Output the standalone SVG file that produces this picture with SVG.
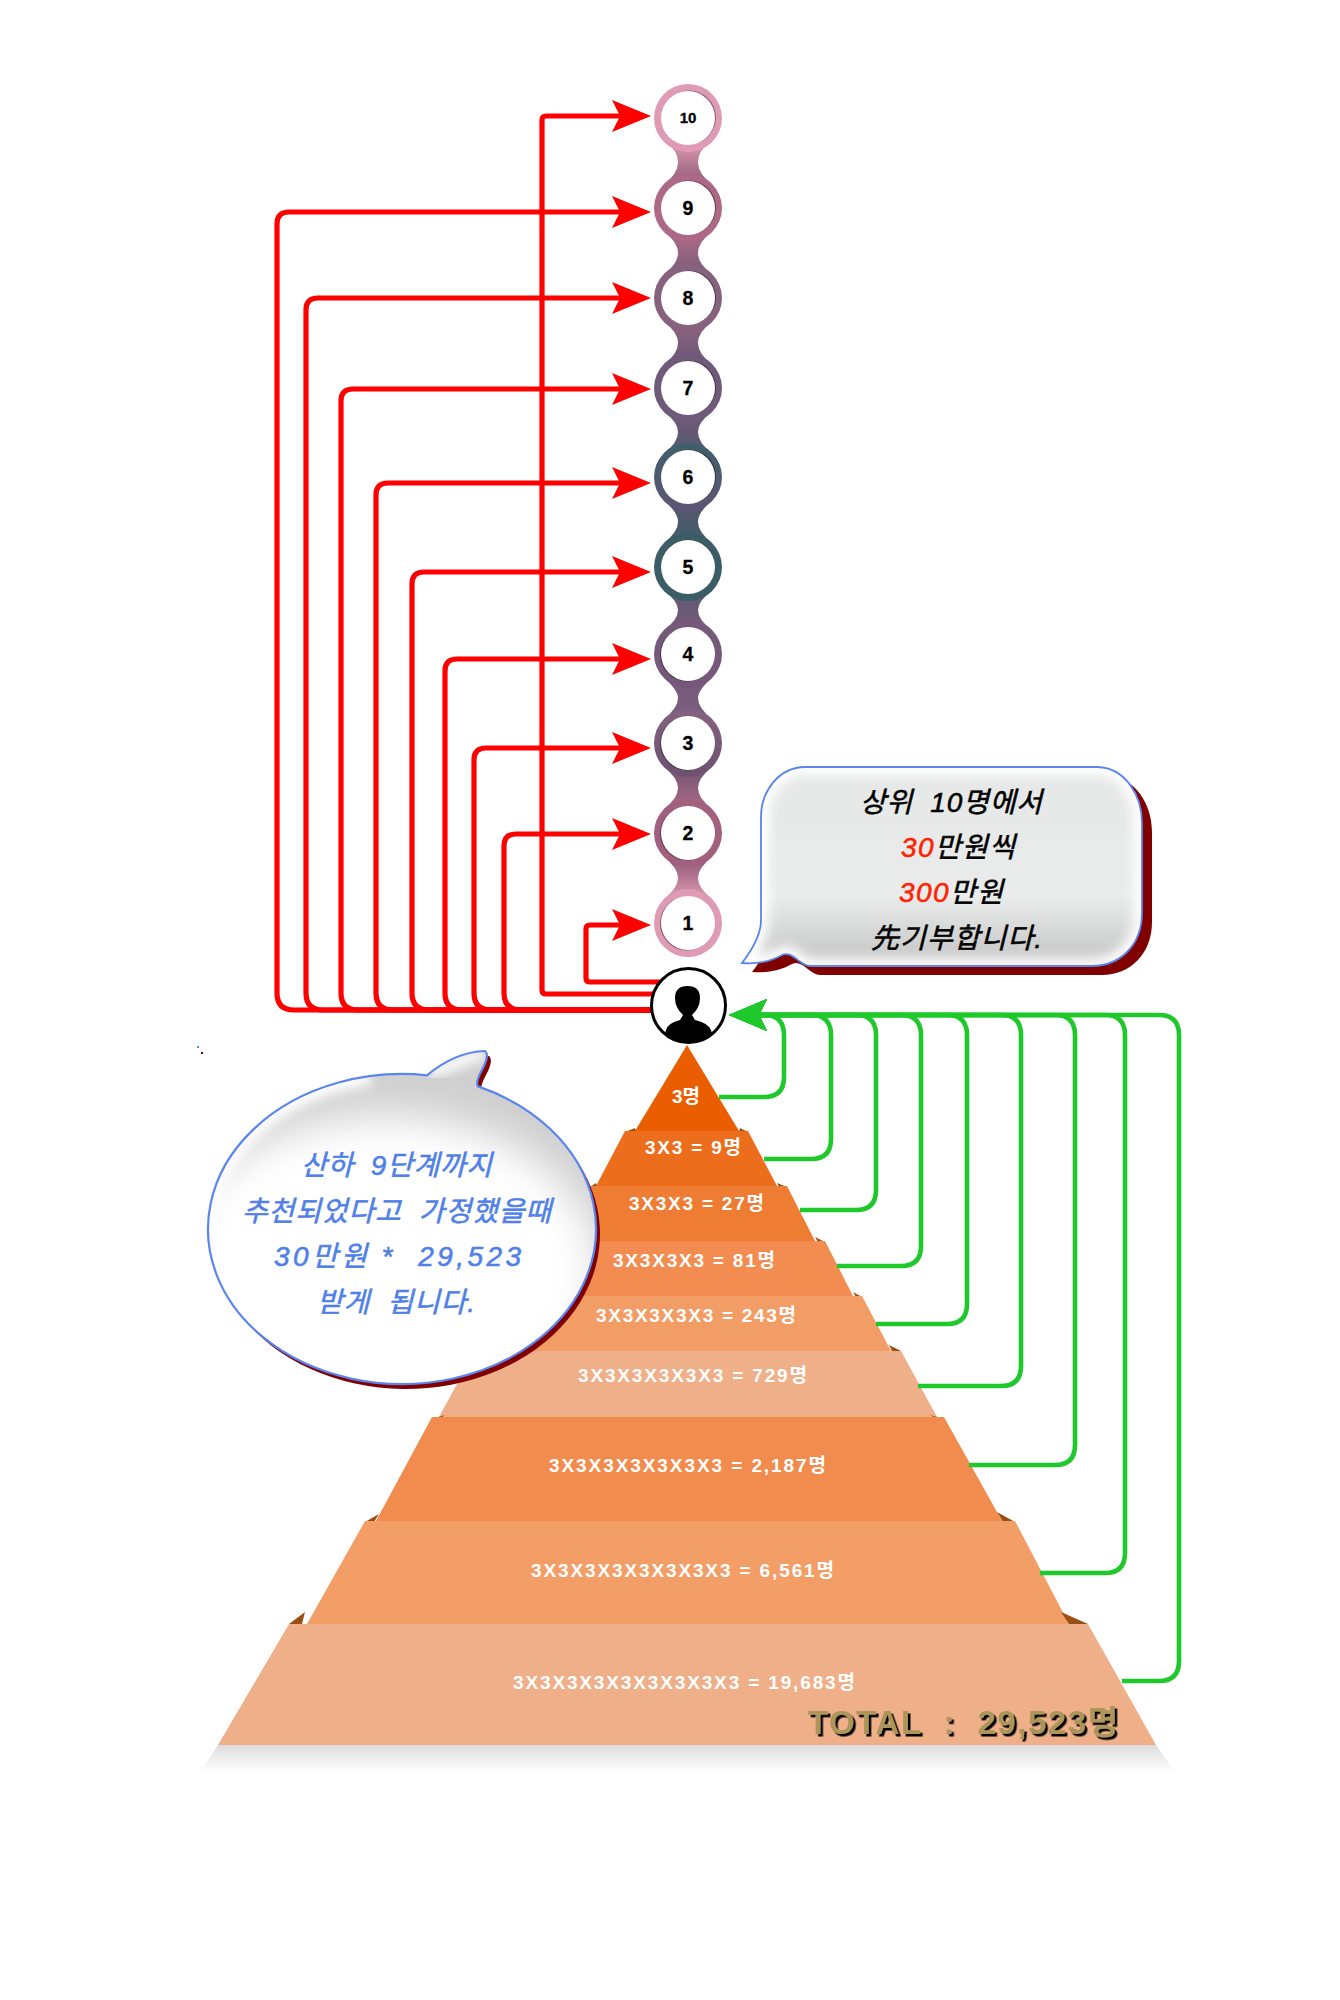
<svg xmlns="http://www.w3.org/2000/svg" width="1340" height="2000" viewBox="0 0 1340 2000">
<style>
.red{fill:none;stroke:#ff0000;stroke-width:5.2;marker-end:url(#ra)}
.grn{fill:none;stroke:#1fc92b;stroke-width:4.6;marker-end:url(#ga)}
.ring{stroke:none}
.hole{fill:#fff}
.holes{fill:#000;opacity:.4}
.num{font:bold 19.5px "Liberation Sans","Noto Sans CJK KR",sans-serif;text-anchor:middle;fill:#000;stroke:#000;stroke-width:.3}
.tl{font:bold 19px "Liberation Sans","Noto Sans CJK KR",sans-serif;fill:#fff}
.b1{font:italic 400 28px "Liberation Sans","Noto Sans CJK KR",sans-serif;fill:#000;stroke:#000;stroke-width:.55;white-space:pre}
.b2{font:italic 400 28px "Liberation Sans","Noto Sans CJK KR",sans-serif;fill:#4f7fe8;stroke:#4f7fe8;stroke-width:.55;white-space:pre}
.rd{fill:#ff2200;stroke:#ff2200}
.step{fill:#9a4f14}
</style>
<defs>
<marker id="ra" markerUnits="userSpaceOnUse" markerWidth="40" markerHeight="34" refX="8" refY="17" orient="auto"><path d="M0,1 L39,17 L0,33 L8,17Z" fill="#ff0000"/></marker>
<marker id="ga" markerUnits="userSpaceOnUse" markerWidth="40" markerHeight="34" refX="8" refY="17" orient="auto"><path d="M0,1 L38,17 L0,33 L8,17Z" fill="#1fc92b"/></marker>
<linearGradient id="sh" x1="0" y1="0" x2="0" y2="1"><stop offset="0" stop-color="#dcdcdc"/><stop offset="1" stop-color="#fff"/></linearGradient>
<linearGradient id="bg1" x1="0" y1="0" x2="0" y2="1"><stop offset="0" stop-color="#e6e8e8"/><stop offset=".65" stop-color="#eaecec"/><stop offset="1" stop-color="#c2c2c2"/></linearGradient>
<linearGradient id="n109" x1="0" y1="0" x2="0" y2="1"><stop offset="0" stop-color="#de9bb3"/><stop offset="1" stop-color="#8f5c78"/></linearGradient>
<linearGradient id="n98" x1="0" y1="0" x2="0" y2="1"><stop offset="0" stop-color="#b06a88"/><stop offset="1" stop-color="#7c5d78"/></linearGradient>
<linearGradient id="n87" x1="0" y1="0" x2="0" y2="1"><stop offset="0" stop-color="#8f6583"/><stop offset="1" stop-color="#6a5674"/></linearGradient>
<linearGradient id="n76" x1="0" y1="0" x2="0" y2="1"><stop offset="0" stop-color="#77597a"/><stop offset="1" stop-color="#4f5a70"/></linearGradient>
<linearGradient id="n65" x1="0" y1="0" x2="0" y2="1"><stop offset="0" stop-color="#5a5570"/><stop offset="1" stop-color="#3c5f68"/></linearGradient>
<linearGradient id="n54" x1="0" y1="0" x2="0" y2="1"><stop offset="0" stop-color="#5a5a70"/><stop offset="1" stop-color="#7a5a7c"/></linearGradient>
<linearGradient id="n43" x1="0" y1="0" x2="0" y2="1"><stop offset="0" stop-color="#76587a"/><stop offset="1" stop-color="#7c5f80"/></linearGradient>
<linearGradient id="n32" x1="0" y1="0" x2="0" y2="1"><stop offset="0" stop-color="#6f5570"/><stop offset="1" stop-color="#b06a88"/></linearGradient>
<linearGradient id="n21" x1="0" y1="0" x2="0" y2="1"><stop offset="0" stop-color="#8d5573"/><stop offset="1" stop-color="#de9bb3"/></linearGradient>
<linearGradient id="r6" x1="0" y1="0" x2="0" y2="1"><stop offset="0" stop-color="#3f5f6b"/><stop offset="1" stop-color="#5e5574"/></linearGradient>
<linearGradient id="r3" x1="0" y1="0" x2="0" y2="1"><stop offset="0" stop-color="#85617f"/><stop offset="1" stop-color="#6c5270"/></linearGradient>
<filter id="bl6" x="-20%" y="-20%" width="140%" height="140%"><feGaussianBlur stdDeviation="6"/></filter>
<filter id="bl14" x="-30%" y="-30%" width="160%" height="160%"><feGaussianBlur stdDeviation="20"/></filter>
<filter id="tot" x="-5%" y="-20%" width="110%" height="150%"><feDropShadow dx="2.5" dy="2.5" stdDeviation="0" flood-color="#000"/></filter>
<path id="bub1" d="M805,767 H1098 C1125,768 1142,795 1142,823 V913 C1142,945 1120,966 1092,966 H810 C800,966 792,950 782,955 C770,962 755,964 742,963 C752,950 761,935 761,920 V817 C761,790 780,767 805,767Z"/>
<path id="bub2" d="M427,1075.3 Q455,1052 485,1051 Q490,1055 482,1070 Q475,1083 478,1086.4 A194 155 0 1 1 427,1075.3Z"/>
<clipPath id="c1"><use href="#bub1"/></clipPath>
<clipPath id="c2"><use href="#bub2"/></clipPath>
<clipPath id="cp"><circle cx="688.5" cy="1005.5" r="36"/></clipPath>
</defs>
<rect width="1340" height="2000" fill="#fff"/>

<g id="pyramid-shadow"><polygon points="218,1745 1156,1745 1175,1772 200,1772" fill="url(#sh)"/></g>

<g id="tier-1"><polygon points="687,1045 739,1131 635,1131" fill="#ea5d00"/></g>
<g id="tier-2"><polygon class="step" points="740,1128 748,1132 739,1132"/><polygon class="step" points="635,1128 625,1132 636,1132"/><polygon points="748,1131 777,1186 596,1186 625,1131" fill="#ec6e1c"/></g>
<g id="tier-3"><polygon class="step" points="777,1183 787,1187 779,1187"/><polygon class="step" points="596,1183 590,1187 597,1187"/><polygon points="787,1186 815,1241 561,1241 589,1186" fill="#ef7c33"/></g>
<g id="tier-4"><polygon class="step" points="815,1237 825,1242 818,1242"/><polygon points="825,1241 853,1296 523,1296 551,1241" fill="#f28c50"/></g>
<g id="tier-5"><polygon class="step" points="853,1292 862,1297 856,1297"/><polygon points="862,1296 891,1351 485,1351 514,1296" fill="#f29d66"/></g>
<g id="tier-6"><polygon class="step" points="889,1345 901,1351 892,1351"/><polygon points="901,1351 937,1417 439,1417 475,1351" fill="#efaf88"/></g>
<g id="tier-7"><polygon class="step" points="930,1415 944,1419 937,1419"/><polygon class="step" points="445,1415 432,1419 440,1419"/><polygon points="944,1417 1002,1521 376,1521 432,1417" fill="#f28c4e"/></g>
<g id="tier-8"><polygon class="step" points="997,1512 1015,1522 1003,1522"/><polygon class="step" points="379,1514 365,1522 374,1522"/><polygon points="1015,1521 1069,1624 307,1624 365,1521" fill="#f39e67"/></g>
<g id="tier-9"><polygon class="step" points="1061,1612 1088,1624 1069,1624"/><polygon class="step" points="305,1612 289,1624 302,1624"/><polygon points="1088,1624 1156,1745 218,1745 289,1624" fill="#efaf88"/></g>

<g id="connectors">
<path class="red" d="M655,1010 H294 Q277,1010 277,993 V224 Q277,212 289,212 H620"/>
<path class="red" d="M655,1010 H323 Q306,1010 306,993 V310 Q306,298 318,298 H620"/>
<path class="red" d="M655,1010 H358 Q341,1010 341,993 V401 Q341,389 353,389 H620"/>
<path class="red" d="M655,1010 H393 Q376,1010 376,993 V495 Q376,483 388,483 H620"/>
<path class="red" d="M655,1010 H429 Q412,1010 412,993 V584 Q412,572 424,572 H620"/>
<path class="red" d="M655,1010 H462 Q445,1010 445,993 V671 Q445,659 457,659 H620"/>
<path class="red" d="M655,1010 H491 Q474,1010 474,993 V760 Q474,748 486,748 H620"/>
<path class="red" d="M655,1010 H521 Q504,1010 504,993 V846 Q504,834 516,834 H620"/>
<path class="red" d="M655,994 H546 Q542,994 542,990 V120 Q542,116 546,116 H620"/>
<path class="red" d="M660,982 H590 Q586,982 586,978 V929 Q586,925 590,925 H620"/>
<path class="grn" d="M719,1097 H764 Q784,1097 784,1077 V1035 Q784,1015 764,1015 H759"/>
<path class="grn" d="M764,1159 H811 Q831,1159 831,1139 V1035 Q831,1015 811,1015 H759"/>
<path class="grn" d="M800,1210 H856 Q876,1210 876,1190 V1035 Q876,1015 856,1015 H759"/>
<path class="grn" d="M837,1266 H901 Q921,1266 921,1246 V1035 Q921,1015 901,1015 H759"/>
<path class="grn" d="M876,1324 H947 Q967,1324 967,1304 V1035 Q967,1015 947,1015 H759"/>
<path class="grn" d="M918,1386 H1001 Q1021,1386 1021,1366 V1035 Q1021,1015 1001,1015 H759"/>
<path class="grn" d="M969,1465 H1055 Q1075,1465 1075,1445 V1035 Q1075,1015 1055,1015 H759"/>
<path class="grn" d="M1040,1573 H1105 Q1125,1573 1125,1553 V1035 Q1125,1015 1105,1015 H759"/>
<path class="grn" d="M1122,1681 H1159 Q1179,1681 1179,1661 V1035 Q1179,1015 1159,1015 H759"/>
</g>

<g id="chain">
<path fill="url(#n109)" d="M664,141 Q678,150 678,162 Q678,174 664,184 H712 Q698,174 698,162 Q698,150 712,141Z"/>
<path fill="url(#n98)" d="M664,232 Q678,242 678,253 Q678,264 664,274 H712 Q698,264 698,253 Q698,242 712,232Z"/>
<path fill="url(#n87)" d="M664,322 Q678,332 678,343 Q678,354 664,364 H712 Q698,354 698,343 Q698,332 712,322Z"/>
<path fill="url(#n76)" d="M664,412 Q678,422 678,432 Q678,443 664,453 H712 Q698,443 698,432 Q698,422 712,412Z"/>
<path fill="url(#n65)" d="M664,501 Q678,512 678,522 Q678,532 664,543 H712 Q698,532 698,522 Q698,512 712,501Z"/>
<path fill="url(#n54)" d="M664,591 Q678,601 678,610 Q678,620 664,630 H712 Q698,620 698,610 Q698,601 712,591Z"/>
<path fill="url(#n43)" d="M664,678 Q678,690 678,698 Q678,708 664,719 H712 Q698,708 698,698 Q698,690 712,678Z"/>
<path fill="url(#n32)" d="M664,767 Q678,778 678,788 Q678,798 664,809 H712 Q698,798 698,788 Q698,778 712,767Z"/>
<path fill="url(#n21)" d="M664,857 Q678,868 678,878 Q678,888 664,899 H712 Q698,888 698,878 Q698,868 712,857Z"/>
</g>

<g id="node-10"><circle class="ring" cx="688" cy="118" r="34" fill="#de9bb3"/><circle class="holes" cx="689" cy="117.5" r="27"/><circle class="hole" cx="688" cy="118" r="27"/><text class="num" x="688" y="123" style="font-size:15px">10</text></g>
<g id="node-9"><circle class="ring" cx="688" cy="208" r="34" fill="#ad6886"/><circle class="holes" cx="689" cy="207.5" r="27"/><circle class="hole" cx="688" cy="208" r="27"/><text class="num" x="688" y="215">9</text></g>
<g id="node-8"><circle class="ring" cx="688" cy="298" r="34" fill="#86627f"/><circle class="holes" cx="689" cy="297.5" r="27"/><circle class="hole" cx="688" cy="298" r="27"/><text class="num" x="688" y="305">8</text></g>
<g id="node-7"><circle class="ring" cx="688" cy="388" r="34" fill="#6f5a7a"/><circle class="holes" cx="689" cy="387.5" r="27"/><circle class="hole" cx="688" cy="388" r="27"/><text class="num" x="688" y="395">7</text></g>
<g id="node-6"><circle class="ring" cx="688" cy="477" r="34" fill="url(#r6)"/><circle class="holes" cx="689" cy="476.5" r="27"/><circle class="hole" cx="688" cy="477" r="27"/><text class="num" x="688" y="484">6</text></g>
<g id="node-5"><circle class="ring" cx="688" cy="567" r="34" fill="#3c5d68"/><circle class="holes" cx="688" cy="566.5" r="27"/><circle class="hole" cx="688" cy="567" r="27"/><text class="num" x="688" y="574">5</text></g>
<g id="node-4"><circle class="ring" cx="688" cy="654" r="34" fill="#75587a"/><circle class="holes" cx="687" cy="654.5" r="27"/><circle class="hole" cx="688" cy="654" r="27"/><text class="num" x="688" y="661">4</text></g>
<g id="node-3"><circle class="ring" cx="688" cy="743" r="34" fill="url(#r3)"/><circle class="holes" cx="687" cy="743.5" r="27"/><circle class="hole" cx="688" cy="743" r="27"/><text class="num" x="688" y="750">3</text></g>
<g id="node-2"><circle class="ring" cx="688" cy="833" r="34" fill="#a3607e"/><circle class="holes" cx="687" cy="833.5" r="27"/><circle class="hole" cx="688" cy="833" r="27"/><text class="num" x="688" y="840">2</text></g>
<g id="node-1"><circle class="ring" cx="688" cy="923" r="34" fill="#de9bb3"/><circle class="holes" cx="687" cy="923.5" r="27"/><circle class="hole" cx="688" cy="923" r="27"/><text class="num" x="688" y="930">1</text></g>

<g id="person">
<circle cx="688.5" cy="1005.5" r="37" fill="#fff" stroke="#000" stroke-width="3"/>
<path clip-path="url(#cp)" fill="#000" d="M662,1045 L666,1030 Q668,1023 680,1020 L683,1015 Q675,1008 675,998 Q675,986 687.5,986 Q700,986 700,998 Q700,1008 692,1015 L695,1020 Q708,1023 711,1030 L715,1045Z"/>
</g>

<g id="tier-labels">
<text class="tl" x="672" y="1103" textLength="28">3명</text>
<text class="tl" x="645" y="1154" textLength="96">3X3 = 9명</text>
<text class="tl" x="629" y="1210" textLength="135">3X3X3 = 27명</text>
<text class="tl" x="613" y="1267" textLength="162">3X3X3X3 = 81명</text>
<text class="tl" x="596" y="1322" textLength="200">3X3X3X3X3 = 243명</text>
<text class="tl" x="578" y="1382" textLength="229">3X3X3X3X3X3 = 729명</text>
<text class="tl" x="549" y="1472" textLength="277">3X3X3X3X3X3X3 = 2,187명</text>
<text class="tl" x="531" y="1577" textLength="303">3X3X3X3X3X3X3X3 = 6,561명</text>
<text class="tl" x="513" y="1689" textLength="342">3X3X3X3X3X3X3X3X3 = 19,683명</text>
<text id="total" x="808" y="1734" textLength="310" filter="url(#tot)" style="font:bold 33px 'Liberation Sans','Noto Sans CJK KR',sans-serif;fill:#ab9559;white-space:pre">TOTAL  :  29,523명</text>
</g>

<g id="bubble-top">
<use href="#bub1" transform="translate(10,9)" fill="#800000"/>
<use href="#bub1" fill="url(#bg1)"/>
<g clip-path="url(#c1)"><use href="#bub1" fill="none" stroke="#fff" stroke-width="16" filter="url(#bl6)"/></g>
<use href="#bub1" fill="none" stroke="#5b85ee" stroke-width="1.8"/>
<text class="b1" x="860" y="812" textLength="182">상위  10명에서</text>
<text class="b1" x="901" y="857" textLength="114"><tspan class="rd">30</tspan>만원씩</text>
<text class="b1" x="899" y="902" textLength="104"><tspan class="rd">300</tspan>만원</text>
<text class="b1" x="871" y="948" textLength="171">先기부합니다.</text>
</g>

<g id="bubble-left">
<use href="#bub2" transform="translate(4,5)" fill="#800000"/>
<use href="#bub2" fill="#cfcfcf"/>
<g clip-path="url(#c2)"><ellipse cx="385" cy="1270" rx="215" ry="155" fill="#fff" filter="url(#bl14)"/><path d="M207,1228 C207,1160 270,1090 370,1076" fill="none" stroke="#fff" stroke-width="18" filter="url(#bl6)"/><path d="M430,1073 L484,1052" fill="none" stroke="#fff" stroke-width="12" filter="url(#bl6)"/></g>
<use href="#bub2" fill="none" stroke="#5b85ee" stroke-width="2.2"/>
<text class="b2" x="301" y="1175" textLength="191">산하  9단계까지</text>
<text class="b2" x="242" y="1221" textLength="309">추천되었다고  가정했을때</text>
<text class="b2" x="274" y="1266" textLength="247">30만원 *  29,523</text>
<text class="b2" x="317" y="1312" textLength="158">받게  됩니다.</text>
</g>
<g id="specks"><rect x="197" y="1046" width="2" height="2" fill="#5b85ee"/><rect x="201" y="1052" width="2" height="2" fill="#800000"/></g>
</svg>
